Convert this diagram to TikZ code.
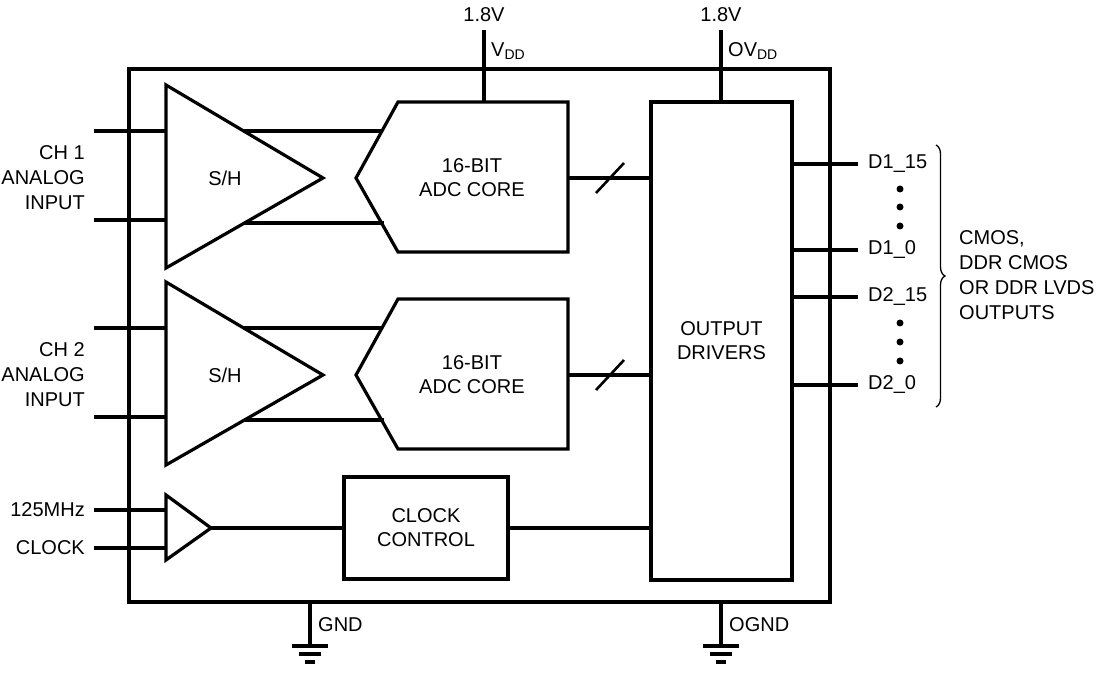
\documentclass[tikz,border=0pt]{standalone}
\usepackage{fontspec}
\setmainfont{Liberation Sans}
\usetikzlibrary{positioning,decorations.pathreplacing}
\begin{document}
\begin{tikzpicture}
        [x=1pt, y=-1pt,
        box/.style={draw, line width=3.2pt, inner sep=0pt},
        edge/.style={line width=3.2pt, black},
        lbl/.style={font=\fontsize{20}{24}\selectfont, align=center, inner sep=0pt},
        pin/.style={font=\fontsize{20}{25}\selectfont, inner sep=0pt},
        dot/.style={circle, fill, inner sep=0pt, minimum size=7pt},
        line cap=butt, line join=miter]

        \useasboundingbox (0,0) rectangle (1098,676);

        % outer package
        \draw[edge] (129,69) rectangle (830,602);

        % sample and hold, adc cores
        \foreach \i/\dy in {1/0, 2/197} {
            \draw[edge] (166,85+\dy) -- (166,268+\dy) -- (323,178+\dy) -- cycle;
            \node[lbl] (sh\i) at (225,178+\dy) {S/H};
            \draw[edge] (398,102+\dy) -- (568,102+\dy) -- (568,252+\dy) -- (398,252+\dy)
                -- (356,178+\dy) -- cycle;
            \node[lbl] (adc\i) at (472,178+\dy) {16-BIT\\ADC CORE};
            \coordinate (inA\i) at (94,131+\dy);
            \coordinate (inB\i) at (94,220+\dy);
            \coordinate (shA\i) at (166,131+\dy);
            \coordinate (shB\i) at (166,220+\dy);
            \coordinate (toA\i) at (244,131+\dy);
            \coordinate (toB\i) at (244,223+\dy);
            \coordinate (adA\i) at (382,131+\dy);
            \coordinate (adB\i) at (384,223+\dy);
            \coordinate (bus\i) at (568,178+\dy);
            \coordinate (drv\i) at (651,178+\dy);
            \draw[edge] (inA\i) -- (shA\i);
            \draw[edge] (inB\i) -- (shB\i);
            \draw[edge] (toA\i) -- (adA\i);
            \draw[edge] (toB\i) -- (adB\i);
            \draw[edge] (bus\i) -- (drv\i);
            \draw[line width=2.6pt] (596,193+\dy) -- (624,163+\dy);
            \node[pin, align=right, anchor=east] (ch\i) at (85,178+\dy) {CH \i\\ANALOG\\INPUT};
        }

        % output drivers
        \node[box, minimum width=141pt, minimum height=478pt] (drv) at (721.5,341) {};
        \node[lbl] at (drv) {OUTPUT\\DRIVERS};

        % supplies
        \coordinate (vdd) at (484,102);
        \coordinate (vddt) at (484,30);
        \draw[edge] (vdd) -- (vddt);
        \node[pin] (vddv) at (484,15) {1.8V};
        \node[pin, anchor=west] (vddl) at (491,51) {V\textsubscript{DD}};
        \coordinate (ovdd) at (721,102);
        \coordinate (ovddt) at (721,30);
        \draw[edge] (ovdd) -- (ovddt);
        \node[pin] (ovddv) at (721,15) {1.8V};
        \node[pin, anchor=west] (ovddl) at (728,51) {OV\textsubscript{DD}};

        % outputs
        \foreach \n/\y in {o1/164, o2/250, o3/297, o4/385} {
            \coordinate (\n a) at (792,\y);
            \coordinate (\n b) at (858,\y);
            \draw[edge] (\n a) -- (\n b);
        }
        \node[pin, anchor=west] at (868,164) {D1\_15};
        \node[pin, anchor=west] at (868,250) {D1\_0};
        \node[pin, anchor=west] at (868,297) {D2\_15};
        \node[pin, anchor=west] at (868,385) {D2\_0};
        \foreach \y in {189,207,226,323,342,361}
            \node[dot] at (900,\y) {};
        \draw[line width=1.3pt, decorate, decoration={brace, amplitude=9pt}]
            (936,145) -- (936,407);
        \node[pin, align=left, anchor=west] (fmt) at (959,275)
            {CMOS,\\DDR CMOS\\OR DDR LVDS\\OUTPUTS};

        % clock
        \draw[edge] (166,495) -- (166,560) -- (211,528) -- cycle;
        \coordinate (clkp) at (94,510);
        \coordinate (clkn) at (94,548);
        \draw[edge] (clkp) -- (166,510);
        \draw[edge] (clkn) -- (166,548);
        \node[pin, anchor=east] at (85,510) {125MHz};
        \node[pin, anchor=east] at (85,548) {CLOCK};
        \node[box, minimum width=164pt, minimum height=102pt] (clk) at (426,528) {};
        \node[lbl] at (clk) {CLOCK\\CONTROL};
        \coordinate (buf) at (211,528);
        \draw[edge] (buf) -- (clk.west);
        \draw[edge] (clk.east) -- (drv.west |- clk.east);

        % grounds
        \foreach \n/\x/\t in {gnd/310/GND, ognd/721/OGND} {
            \coordinate (\n) at (\x,602);
            \coordinate (\n b) at (\x,646);
            \draw[edge] (\n) -- (\n b);
            \draw[edge] (\x-18,646) -- (\x+18,646);
            \draw[edge] (\x-11,654) -- (\x+11,654);
            \draw[edge] (\x-5,662) -- (\x+5,662);
            \node[pin, anchor=west] at (\x+8,625) {\t};
        }

    \end{tikzpicture}
\end{document}
